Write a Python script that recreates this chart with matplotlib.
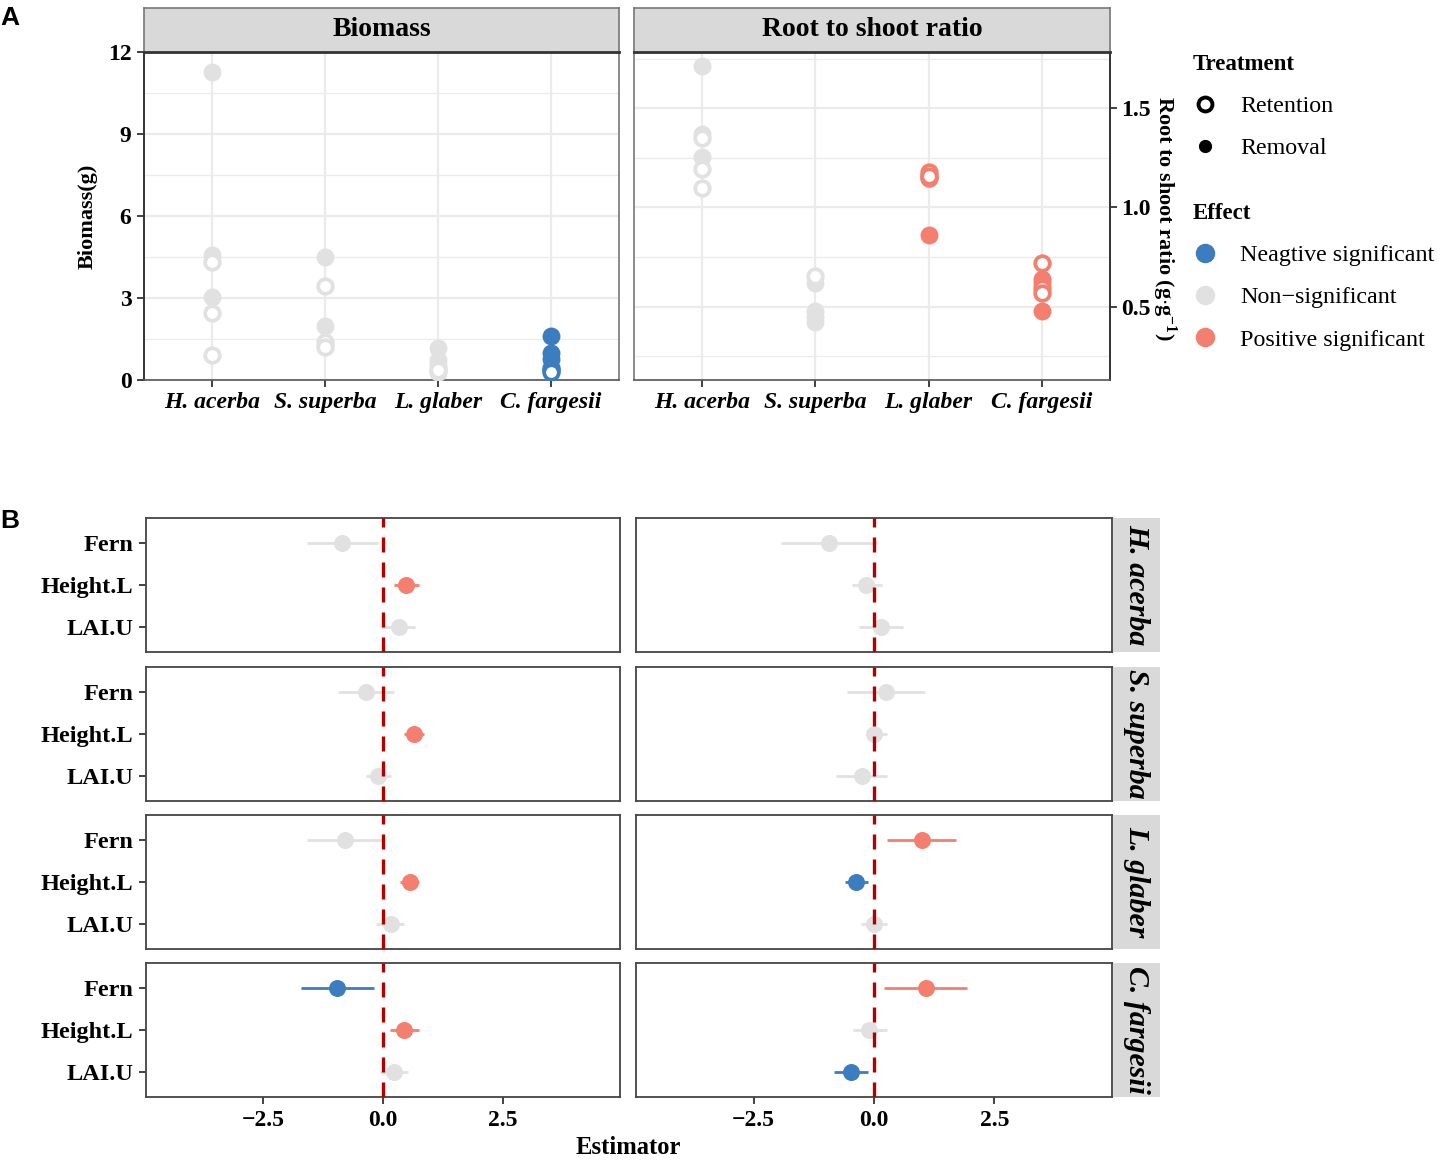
import matplotlib
matplotlib.use("Agg")
import matplotlib.pyplot as plt
from matplotlib.lines import Line2D
import numpy as np

plt.rcParams['font.family'] = ['Liberation Serif', 'DejaVu Serif']
plt.rcParams['font.weight'] = 'bold'
plt.rcParams['mathtext.fontset'] = 'custom'
plt.rcParams['mathtext.rm'] = 'Liberation Serif:bold'
plt.rcParams['mathtext.bf'] = 'Liberation Serif:bold'
plt.rcParams['mathtext.it'] = 'Liberation Serif:bold:italic'

# ---------------- data ----------------
species = ["H. acerba", "S. superba", "L. glaber", "C. fargesii"]

biomass_retention = [[4.33, 2.46, 0.91], [3.45, 1.40, 1.22], [0.40, 0.30, 0.35], [0.45, 0.35, 0.30]]
biomass_removal = [[11.28, 4.57, 3.05], [4.49, 1.99, 1.30], [1.16, 0.73, 0.55], [1.61, 0.98, 0.75]]
biomass_effect = ["Non-significant", "Non-significant", "Non-significant", "Negative significant"]

rs_retention = [[1.35, 1.194, 1.096], [0.655], [1.18, 1.15, 1.16], [0.72, 0.595, 0.57]]
rs_removal = [[1.71, 1.37, 1.256], [0.62, 0.48, 0.45, 0.42], [1.165, 0.86, 1.15], [0.64, 0.62, 0.48]]
rs_effect = ["Non-significant", "Non-significant", "Positive significant", "Positive significant"]

predictors = ["Fern", "Height.L", "LAI.U"]

# Estimates (rows = species, cols = predictors); left column / right column
est_left = [[-0.85, 0.48, 0.33], [-0.35, 0.64, -0.11], [-0.79, 0.57, 0.17], [-0.95, 0.44, 0.23]]
lo_left = [[-1.58, 0.23, -0.03], [-0.93, 0.44, -0.36], [-1.58, 0.36, -0.14], [-1.70, 0.14, -0.07]]
hi_left = [[-0.11, 0.76, 0.67], [0.23, 0.85, 0.16], [-0.03, 0.75, 0.44], [-0.18, 0.74, 0.53]]
eff_left = [["Non-significant", "Positive significant", "Non-significant"],
            ["Non-significant", "Positive significant", "Non-significant"],
            ["Non-significant", "Positive significant", "Non-significant"],
            ["Negative significant", "Positive significant", "Non-significant"]]

est_right = [[-0.93, -0.16, 0.15], [0.24, 0.01, -0.24], [1.00, -0.37, 0.00], [1.07, -0.10, -0.48]]
lo_right = [[-1.93, -0.46, -0.32], [-0.56, -0.16, -0.78], [0.27, -0.61, -0.28], [0.20, -0.43, -0.84]]
hi_right = [[0.07, 0.16, 0.61], [1.05, 0.28, 0.28], [1.70, -0.13, 0.26], [1.93, 0.26, -0.13]]
eff_right = [["Non-significant", "Non-significant", "Non-significant"],
             ["Non-significant", "Non-significant", "Non-significant"],
             ["Positive significant", "Negative significant", "Non-significant"],
             ["Positive significant", "Non-significant", "Negative significant"]]

effect_colors = {"Negative significant": "#3B7DBE",
                 "Non-significant": "#E1E1E1",
                 "Positive significant": "#F47F6E"}
effect_labels = {"Negative significant": "Neagtive significant",
                 "Non-significant": "Non\u2212significant",
                 "Positive significant": "Positive significant"}

# ---------------- layout helpers ----------------
W, H = 1447, 1164
fig = plt.figure(figsize=(W / 100, H / 100), dpi=100)


def rect(x0, y0, x1, y1):
    return [x0 / W, 1 - y1 / H, (x1 - x0) / W, (y1 - y0) / H]


FS = 16
DARK = "#333333"
BORDER = "#777777"
GRID = "#EBEBEB"


def top_panel(r, retention, removal, effects, yticks, yminor, ylim, right_axis, title):
    ax = fig.add_axes(rect(*r))
    xs = np.arange(len(species))
    for i in xs:
        c = effect_colors[effects[i]]
        ax.scatter(np.full(len(removal[i]), i), removal[i], s=130, color=c,
                   edgecolors=c, linewidths=1.5, zorder=3)
        ax.scatter(np.full(len(retention[i]), i), retention[i], s=110, facecolors="white",
                   edgecolors=c, linewidths=2.7, zorder=4)
    ax.set_xlim(-0.6, len(species) - 0.4)
    ax.set_ylim(*ylim)
    ax.set_xticks(xs)
    ax.set_xticklabels(species, fontstyle="italic", fontsize=FS + 0.5, fontweight="bold")
    ax.set_yticks(yticks)
    ax.set_yticks(yminor, minor=True)
    ax.grid(True, which="major", color=GRID, lw=1.6, zorder=0)
    ax.grid(True, which="minor", axis="y", color=GRID, lw=0.9, zorder=0)
    ax.set_axisbelow(True)
    ax.tick_params(which="minor", length=0)
    ax.tick_params(which="major", length=5, width=1.3, color=DARK, labelsize=FS + 1, pad=4)
    for s in ax.spines.values():
        s.set_color(BORDER)
        s.set_linewidth(1.2)
    ax.spines["bottom"].set_color("#555555")
    if right_axis:
        ax.yaxis.tick_right()
        ax.tick_params(axis="y", pad=3)
        ax.spines["right"].set_color(DARK)
        ax.spines["right"].set_linewidth(1.4)
    else:
        ax.spines["left"].set_color(DARK)
        ax.spines["left"].set_linewidth(1.4)
    # strip
    sx = fig.add_axes(rect(r[0], 8, r[2], r[1]))
    sx.set_facecolor("#D9D9D9")
    sx.set_xticks([]); sx.set_yticks([])
    for s in sx.spines.values():
        s.set_color(BORDER); s.set_linewidth(1.2)
    sx.spines["bottom"].set_color("#333333"); sx.spines["bottom"].set_linewidth(2)
    sx.text(0.5, 0.5, title, transform=sx.transAxes, ha="center", va="center",
            fontsize=20, fontweight="bold")
    return ax


ax1 = top_panel((144, 52, 619, 380), biomass_retention, biomass_removal, biomass_effect,
                [0, 3, 6, 9, 12], [1.5, 4.5, 7.5, 10.5], (0, 12.0), False, "Biomass")
ax1.set_yticklabels(["0", "3", "6", "9", "12"])
ax2 = top_panel((634, 52, 1110, 380), rs_retention, rs_removal, rs_effect,
                [0.5, 1.0, 1.5], [0.25, 0.75, 1.25, 1.75], (0.13, 1.783), True, "Root to shoot ratio")
ax2.set_yticklabels(["0.5", "1.0", "1.5"])

fig.text(88 / W, 1 - 216 / H, "Biomass(g)", rotation=90, ha="center", va="center",
         fontsize=FS, fontweight="bold")
fig.text(1164 / W, 1 - 218 / H, r"Root to shoot ratio (g$\cdot$g$^{-1}$)", rotation=270,
         ha="center", va="center", fontsize=FS, fontweight="bold")

# legends
LFS = 17.3
h1 = [Line2D([], [], marker="o", ls="", mfc="none", mec="black", mew=2.8, ms=10, label="Retention"),
      Line2D([], [], marker="o", ls="", mfc="black", mec="black", ms=8.5, label="Removal")]
leg1 = fig.legend(handles=h1, title="Treatment", loc="upper left", bbox_to_anchor=(1193 / W, 1 - 54 / H),
                  frameon=False, alignment="left", fontsize=LFS, labelspacing=0.85,
                  handletextpad=0.95, handlelength=1.0, borderaxespad=0, borderpad=0,
                  title_fontproperties={"weight": "bold", "size": FS + 0.5})
for t in leg1.get_texts():
    t.set_fontweight("normal")
h2 = [Line2D([], [], marker="o", ls="", mfc=effect_colors[k], mec=effect_colors[k], ms=13,
             label=effect_labels[k]) for k in ["Negative significant", "Non-significant", "Positive significant"]]
leg2 = fig.legend(handles=h2, title="Effect", loc="upper left", bbox_to_anchor=(1193 / W, 1 - 203 / H),
                  frameon=False, alignment="left", fontsize=LFS, labelspacing=0.85,
                  handletextpad=0.95, handlelength=1.0, borderaxespad=0, borderpad=0,
                  title_fontproperties={"weight": "bold", "size": FS + 0.5})
for t in leg2.get_texts():
    t.set_fontweight("normal")

# ---------------- bottom panels ----------------
row_tops = [518, 667, 815, 963]
row_h = 134
cols = [(146, 620), (636, 1112)]
data_cols = [(est_left, lo_left, hi_left, eff_left), (est_right, lo_right, hi_right, eff_right)]
ypos = np.arange(len(predictors))

for ri, top in enumerate(row_tops):
    for ci, (x0, x1) in enumerate(cols):
        est, lo, hi, eff = data_cols[ci]
        ax = fig.add_axes(rect(x0, top, x1, top + row_h))
        for j in ypos:
            c = effect_colors[eff[ri][j]]
            ax.hlines(j, lo[ri][j], hi[ri][j], color=c, lw=2.0, zorder=2)
            ax.scatter(est[ri][j], j, s=150, color=c, zorder=3, linewidths=0)
        ax.axvline(0, color="#B00000", lw=2.4, ls=(0, (4.5, 3)), zorder=4)
        ax.set_xlim(-4.94, 4.94)
        ax.set_ylim(len(predictors) - 0.4, -0.6)
        ax.set_yticks(ypos)
        ax.set_xticks([-2.5, 0.0, 2.5])
        ax.tick_params(length=5, width=1.3, color=DARK, labelsize=17.5, pad=4)
        if ci == 0:
            ax.set_yticklabels(predictors)
        else:
            ax.tick_params(axis="y", left=False, labelleft=False)
        if ri == len(row_tops) - 1:
            ax.set_xticklabels(["\u22122.5", "0.0", "2.5"])
            ax.tick_params(axis="x", labelsize=17)
        else:
            ax.tick_params(axis="x", bottom=False, labelbottom=False)
        for s in ax.spines.values():
            s.set_color("#444444")
            s.set_linewidth(1.3)
        if ci == 1:
            sx = fig.add_axes(rect(1113, top, 1160, top + row_h))
            sx.set_facecolor("#D9D9D9")
            sx.set_xticks([]); sx.set_yticks([])
            for s in sx.spines.values():
                s.set_visible(False)
            sx.text(0.5, 0.5, species[ri], transform=sx.transAxes, rotation=270,
                    ha="center", va="center", fontsize=21.5, fontweight="bold", fontstyle="italic")

fig.text(628 / W, 1 - 1148 / H, "Estimator", ha="center", va="center", fontsize=17.7, fontweight="bold")

fig.text(0 / W, 1 - 18 / H, "A", ha="left", va="center", fontsize=19, fontweight="bold",
         family="Liberation Sans")
fig.text(0 / W, 1 - 521 / H, "B", ha="left", va="center", fontsize=19, fontweight="bold",
         family="Liberation Sans")

fig.savefig("out.png", dpi=100)
